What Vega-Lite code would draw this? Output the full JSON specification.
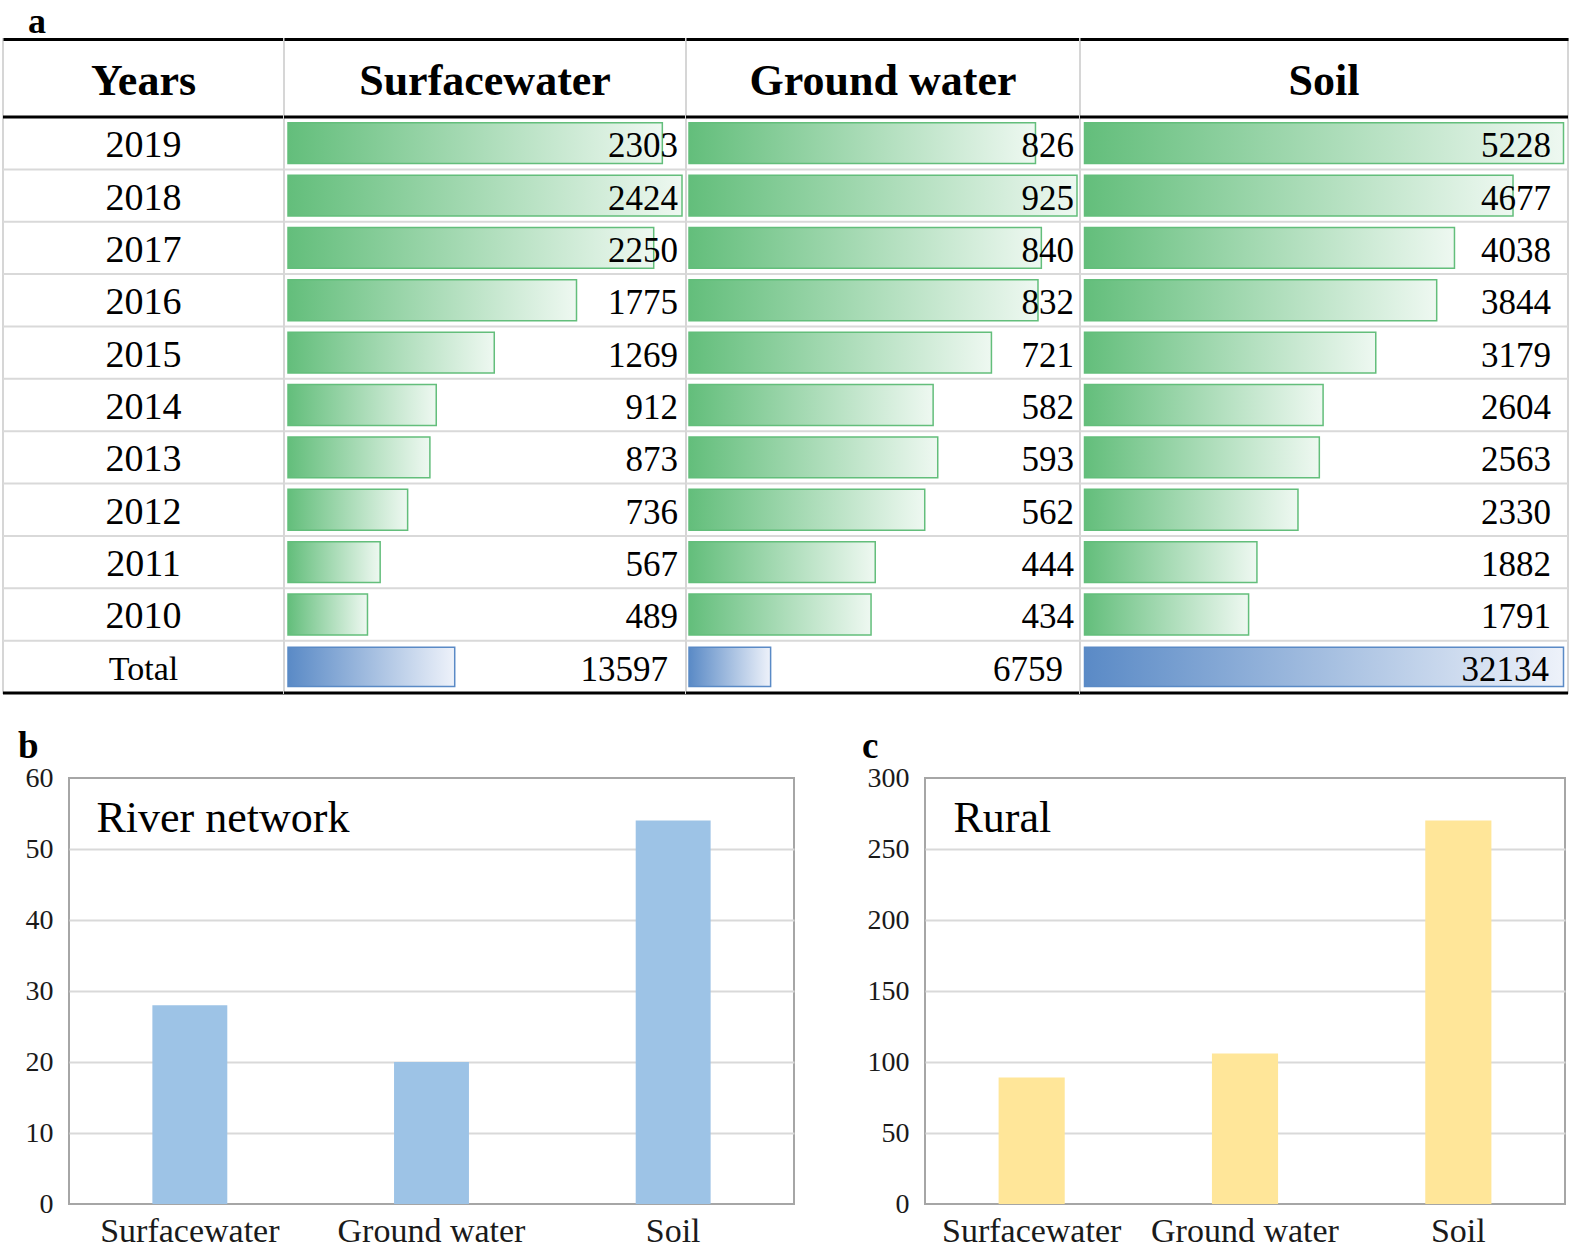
{
  "$schema": "https://vega.github.io/schema/vega-lite/v6.json",
  "padding": {"left": 0, "top": 3, "right": 0, "bottom": 0},
  "background": "white",
  "spacing": 31,
  "datasets": {
    "table": [
      {"year": "2019", "sw": 2303, "gw": 826, "soil": 5228},
      {"year": "2018", "sw": 2424, "gw": 925, "soil": 4677},
      {"year": "2017", "sw": 2250, "gw": 840, "soil": 4038},
      {"year": "2016", "sw": 1775, "gw": 832, "soil": 3844},
      {"year": "2015", "sw": 1269, "gw": 721, "soil": 3179},
      {"year": "2014", "sw": 912, "gw": 582, "soil": 2604},
      {"year": "2013", "sw": 873, "gw": 593, "soil": 2563},
      {"year": "2012", "sw": 736, "gw": 562, "soil": 2330},
      {"year": "2011", "sw": 567, "gw": 444, "soil": 1882},
      {"year": "2010", "sw": 489, "gw": 434, "soil": 1791},
      {"year": "Total", "sw": 13597, "gw": 6759, "soil": 32134}
    ],
    "river": [
      {"medium": "Surfacewater", "count": 28},
      {"medium": "Ground water", "count": 20},
      {"medium": "Soil", "count": 54}
    ],
    "rural": [
      {"medium": "Surfacewater", "count": 89},
      {"medium": "Ground water", "count": 106},
      {"medium": "Soil", "count": 270}
    ]
  },
  "config": {
    "font": "Liberation Serif",
    "view": {"stroke": "#D6D6D6", "strokeWidth": 2},
    "text": {"font": "Liberation Serif", "color": "#000"},
    "axis": {"labelFont": "Liberation Serif", "titleFont": "Liberation Serif"},
    "title": {"font": "Liberation Serif", "color": "#000"}
  },
  "vconcat": [
    {
      "bounds": "flush",
      "spacing": 0,
      "title": {"text": "a", "anchor": "start", "frame": "group", "dx": 25, "offset": -30.5, "baseline": "alphabetic", "fontSize": 36, "fontWeight": "bold"},
      "hconcat": [
        {
          "width": 281, "height": 654,
          "title": {"text": "Years", "anchor": "middle", "frame": "group", "offset": -100, "baseline": "alphabetic", "fontSize": 44, "fontWeight": "bold"},
          "data": {"name": "table"},
          "layer": [
            {"mark": {"type": "rule", "color": "#D9D9D9", "strokeWidth": 2}, "encoding": {"y": {"field": "year", "type": "ordinal", "bandPosition": 0, "axis": null, "scale": {"domain": ["2019","2018","2017","2016","2015","2014","2013","2012","2011","2010","Total"], "paddingInner": 0, "paddingOuter": 0.745, "align": 1}}}},
            {"transform": [{"filter": "datum.year === '2019'"}], "mark": {"type": "rule", "color": "#000", "strokeWidth": 3}, "encoding": {"y": {"field": "year", "type": "ordinal", "bandPosition": 0, "axis": null}}},
            {"transform": [{"filter": "datum.year === 'Total'"}], "mark": {"type": "rule", "color": "#000", "strokeWidth": 3}, "encoding": {"y": {"field": "year", "type": "ordinal", "bandPosition": 1, "axis": null}}},
            {"mark": {"type": "text", "baseline": "middle", "dy": 3}, "encoding": {
              "y": {"field": "year", "type": "ordinal", "axis": null},
              "x": {"datum": "Years", "type": "nominal", "scale": {"paddingInner": 0, "paddingOuter": 0}, "axis": {"orient": "top", "domainColor": "#000", "domainWidth": 3, "labels": false, "ticks": false, "grid": false, "title": null}},
              "text": {"field": "year"},
              "size": {"condition": {"test": "datum.year === 'Total'", "value": 34}, "value": 38}}}
          ]
        },
        {
          "width": 402, "height": 654,
          "title": {"text": "Surfacewater", "anchor": "middle", "frame": "group", "offset": -100, "baseline": "alphabetic", "fontSize": 44, "fontWeight": "bold"},
          "data": {"name": "table"},
          "resolve": {"scale": {"x": "independent"}},
          "layer": [
            {"mark": {"type": "rule", "color": "#D9D9D9", "strokeWidth": 2}, "encoding": {"y": {"field": "year", "type": "ordinal", "bandPosition": 0, "axis": null, "scale": {"domain": ["2019","2018","2017","2016","2015","2014","2013","2012","2011","2010","Total"], "paddingInner": 0, "paddingOuter": 0.745, "align": 1}}}},
            {"transform": [{"filter": "datum.year === '2019'"}], "mark": {"type": "rule", "color": "#000", "strokeWidth": 3}, "encoding": {"y": {"field": "year", "type": "ordinal", "bandPosition": 0, "axis": null}}},
            {"transform": [{"filter": "datum.year === 'Total'"}], "mark": {"type": "rule", "color": "#000", "strokeWidth": 3}, "encoding": {"y": {"field": "year", "type": "ordinal", "bandPosition": 1, "axis": null}}},
            {"transform": [{"filter": "datum.year !== 'Total'"}], "mark": {"type": "bar", "height": {"band": 0.78}, "stroke": "#63BE7B", "strokeWidth": 1.5, "fill": {"gradient": "linear", "x1": 0, "y1": 0, "x2": 1, "y2": 0, "stops": [{"offset": 0, "color": "#63BE7B"}, {"offset": 1, "color": "#EEF8F1"}]}}, "encoding": {"y": {"field": "year", "type": "ordinal", "axis": null}, "x": {"field": "sw", "type": "quantitative", "axis": {"orient": "top", "domainColor": "#000", "domainWidth": 3, "labels": false, "ticks": false, "grid": false, "title": null}, "scale": {"domain": [0, 2424], "padding": 4, "nice": false}}}},
            {"transform": [{"filter": "datum.year === 'Total'"}], "mark": {"type": "bar", "height": {"band": 0.75}, "stroke": "#5A8AC6", "strokeWidth": 1.5, "fill": {"gradient": "linear", "x1": 0, "y1": 0, "x2": 1, "y2": 0, "stops": [{"offset": 0, "color": "#5A8AC6"}, {"offset": 1, "color": "#EEF2FA"}]}}, "encoding": {"y": {"field": "year", "type": "ordinal", "axis": null}, "x": {"field": "sw", "type": "quantitative", "axis": null, "scale": {"domain": [0, 32134], "padding": 4, "nice": false}}}},
            {"transform": [{"filter": "datum.year !== 'Total'"}], "mark": {"type": "text", "align": "right", "baseline": "middle", "fontSize": 35, "dx": -8, "dy": 3}, "encoding": {"y": {"field": "year", "type": "ordinal", "axis": null}, "x": {"value": "width"}, "text": {"field": "sw", "type": "quantitative", "format": "d"}}},
            {"transform": [{"filter": "datum.year === 'Total'"}], "mark": {"type": "text", "align": "right", "baseline": "middle", "fontSize": 35, "dx": -18, "dy": 3}, "encoding": {"y": {"field": "year", "type": "ordinal", "axis": null}, "x": {"value": "width"}, "text": {"field": "sw", "type": "quantitative", "format": "d"}}}
          ]
        },
        {
          "width": 394, "height": 654,
          "title": {"text": "Ground water", "anchor": "middle", "frame": "group", "offset": -100, "baseline": "alphabetic", "fontSize": 44, "fontWeight": "bold"},
          "data": {"name": "table"},
          "resolve": {"scale": {"x": "independent"}},
          "layer": [
            {"mark": {"type": "rule", "color": "#D9D9D9", "strokeWidth": 2}, "encoding": {"y": {"field": "year", "type": "ordinal", "bandPosition": 0, "axis": null, "scale": {"domain": ["2019","2018","2017","2016","2015","2014","2013","2012","2011","2010","Total"], "paddingInner": 0, "paddingOuter": 0.745, "align": 1}}}},
            {"transform": [{"filter": "datum.year === '2019'"}], "mark": {"type": "rule", "color": "#000", "strokeWidth": 3}, "encoding": {"y": {"field": "year", "type": "ordinal", "bandPosition": 0, "axis": null}}},
            {"transform": [{"filter": "datum.year === 'Total'"}], "mark": {"type": "rule", "color": "#000", "strokeWidth": 3}, "encoding": {"y": {"field": "year", "type": "ordinal", "bandPosition": 1, "axis": null}}},
            {"transform": [{"filter": "datum.year !== 'Total'"}], "mark": {"type": "bar", "height": {"band": 0.78}, "stroke": "#63BE7B", "strokeWidth": 1.5, "fill": {"gradient": "linear", "x1": 0, "y1": 0, "x2": 1, "y2": 0, "stops": [{"offset": 0, "color": "#63BE7B"}, {"offset": 1, "color": "#EEF8F1"}]}}, "encoding": {"y": {"field": "year", "type": "ordinal", "axis": null}, "x": {"field": "gw", "type": "quantitative", "axis": {"orient": "top", "domainColor": "#000", "domainWidth": 3, "labels": false, "ticks": false, "grid": false, "title": null}, "scale": {"domain": [0, 925], "padding": 3, "nice": false}}}},
            {"transform": [{"filter": "datum.year === 'Total'"}], "mark": {"type": "bar", "height": {"band": 0.75}, "stroke": "#5A8AC6", "strokeWidth": 1.5, "fill": {"gradient": "linear", "x1": 0, "y1": 0, "x2": 1, "y2": 0, "stops": [{"offset": 0, "color": "#5A8AC6"}, {"offset": 1, "color": "#EEF2FA"}]}}, "encoding": {"y": {"field": "year", "type": "ordinal", "axis": null}, "x": {"field": "gw", "type": "quantitative", "axis": null, "scale": {"domain": [0, 32134], "padding": 3, "nice": false}}}},
            {"transform": [{"filter": "datum.year !== 'Total'"}], "mark": {"type": "text", "align": "right", "baseline": "middle", "fontSize": 35, "dx": -6, "dy": 3}, "encoding": {"y": {"field": "year", "type": "ordinal", "axis": null}, "x": {"value": "width"}, "text": {"field": "gw", "type": "quantitative", "format": "d"}}},
            {"transform": [{"filter": "datum.year === 'Total'"}], "mark": {"type": "text", "align": "right", "baseline": "middle", "fontSize": 35, "dx": -17, "dy": 3}, "encoding": {"y": {"field": "year", "type": "ordinal", "axis": null}, "x": {"value": "width"}, "text": {"field": "gw", "type": "quantitative", "format": "d"}}}
          ]
        },
        {
          "width": 488, "height": 654,
          "title": {"text": "Soil", "anchor": "middle", "frame": "group", "offset": -100, "baseline": "alphabetic", "fontSize": 44, "fontWeight": "bold"},
          "data": {"name": "table"},
          "resolve": {"scale": {"x": "independent"}},
          "layer": [
            {"mark": {"type": "rule", "color": "#D9D9D9", "strokeWidth": 2}, "encoding": {"y": {"field": "year", "type": "ordinal", "bandPosition": 0, "axis": null, "scale": {"domain": ["2019","2018","2017","2016","2015","2014","2013","2012","2011","2010","Total"], "paddingInner": 0, "paddingOuter": 0.745, "align": 1}}}},
            {"transform": [{"filter": "datum.year === '2019'"}], "mark": {"type": "rule", "color": "#000", "strokeWidth": 3}, "encoding": {"y": {"field": "year", "type": "ordinal", "bandPosition": 0, "axis": null}}},
            {"transform": [{"filter": "datum.year === 'Total'"}], "mark": {"type": "rule", "color": "#000", "strokeWidth": 3}, "encoding": {"y": {"field": "year", "type": "ordinal", "bandPosition": 1, "axis": null}}},
            {"transform": [{"filter": "datum.year !== 'Total'"}], "mark": {"type": "bar", "height": {"band": 0.78}, "stroke": "#63BE7B", "strokeWidth": 1.5, "fill": {"gradient": "linear", "x1": 0, "y1": 0, "x2": 1, "y2": 0, "stops": [{"offset": 0, "color": "#63BE7B"}, {"offset": 1, "color": "#EEF8F1"}]}}, "encoding": {"y": {"field": "year", "type": "ordinal", "axis": null}, "x": {"field": "soil", "type": "quantitative", "axis": {"orient": "top", "domainColor": "#000", "domainWidth": 3, "labels": false, "ticks": false, "grid": false, "title": null}, "scale": {"domain": [0, 5228], "padding": 4.5, "nice": false}}}},
            {"transform": [{"filter": "datum.year === 'Total'"}], "mark": {"type": "bar", "height": {"band": 0.75}, "stroke": "#5A8AC6", "strokeWidth": 1.5, "fill": {"gradient": "linear", "x1": 0, "y1": 0, "x2": 1, "y2": 0, "stops": [{"offset": 0, "color": "#5A8AC6"}, {"offset": 1, "color": "#EEF2FA"}]}}, "encoding": {"y": {"field": "year", "type": "ordinal", "axis": null}, "x": {"field": "soil", "type": "quantitative", "axis": null, "scale": {"domain": [0, 32134], "padding": 4.5, "nice": false}}}},
            {"transform": [{"filter": "datum.year !== 'Total'"}], "mark": {"type": "text", "align": "right", "baseline": "middle", "fontSize": 35, "dx": -17, "dy": 3}, "encoding": {"y": {"field": "year", "type": "ordinal", "axis": null}, "x": {"value": "width"}, "text": {"field": "soil", "type": "quantitative", "format": "d"}}},
            {"transform": [{"filter": "datum.year === 'Total'"}], "mark": {"type": "text", "align": "right", "baseline": "middle", "fontSize": 35, "dx": -19, "dy": 3}, "encoding": {"y": {"field": "year", "type": "ordinal", "axis": null}, "x": {"value": "width"}, "text": {"field": "soil", "type": "quantitative", "format": "d"}}}
          ]
        }
      ]
    },
    {
      "spacing": 0,
      "hconcat": [
        {
          "width": 14, "height": 426,
          "view": {"stroke": null},
          "data": {"values": [{"t": ""}]},
          "mark": {"type": "text"},
          "encoding": {"text": {"field": "t"}}
        },
        {
          "bounds": "flush",
          "spacing": 131,
          "hconcat": [
            {
              "width": 725, "height": 426,
              "view": {"stroke": "#A6A6A6", "strokeWidth": 2},
              "title": {"text": "b", "anchor": "start", "frame": "group", "dx": -51, "offset": -31, "baseline": "alphabetic", "fontSize": 37, "fontWeight": "bold"},
              "data": {"name": "river"},
              "mark": {"type": "bar", "color": "#9DC3E6"},
              "encoding": {
                "x": {"field": "medium", "type": "nominal", "sort": null, "scale": {"paddingInner": 0.69, "paddingOuter": 0.345}, "axis": {"title": null, "labelAngle": 0, "ticks": false, "domain": false, "labelFontSize": 34, "labelPadding": 10, "labelLimit": 0, "labelColor": "#1a1a1a"}},
                "y": {"field": "count", "type": "quantitative", "scale": {"domain": [0, 60], "nice": false}, "axis": {"values": [0, 10, 20, 30, 40, 50, 60], "title": "River network", "titleAngle": 0, "titleX": 27, "titleY": 53, "titleAlign": "left", "titleBaseline": "alphabetic", "titleFontSize": 44, "titleFontWeight": "normal", "titleColor": "#000", "ticks": false, "domain": false, "grid": true, "gridColor": {"condition": {"test": "datum.value === 0 || datum.value === 60", "value": "transparent"}, "value": "#D9D9D9"}, "gridWidth": 2, "labelFontSize": 28, "labelPadding": 16, "labelColor": "#1a1a1a", "labelFlush": false, "labelOverlap": false}}
              }
            },
            {
              "width": 640, "height": 426,
              "view": {"stroke": "#A6A6A6", "strokeWidth": 2},
              "title": {"text": "c", "anchor": "start", "frame": "group", "dx": -63, "offset": -31, "baseline": "alphabetic", "fontSize": 37, "fontWeight": "bold"},
              "data": {"name": "rural"},
              "mark": {"type": "bar", "color": "#FFE699"},
              "encoding": {
                "x": {"field": "medium", "type": "nominal", "sort": null, "scale": {"paddingInner": 0.69, "paddingOuter": 0.345}, "axis": {"title": null, "labelAngle": 0, "ticks": false, "domain": false, "labelFontSize": 34, "labelPadding": 10, "labelLimit": 0, "labelColor": "#1a1a1a"}},
                "y": {"field": "count", "type": "quantitative", "scale": {"domain": [0, 300], "nice": false}, "axis": {"values": [0, 50, 100, 150, 200, 250, 300], "title": "Rural", "titleAngle": 0, "titleX": 28, "titleY": 53, "titleAlign": "left", "titleBaseline": "alphabetic", "titleFontSize": 44, "titleFontWeight": "normal", "titleColor": "#000", "ticks": false, "domain": false, "grid": true, "gridColor": {"condition": {"test": "datum.value === 0 || datum.value === 300", "value": "transparent"}, "value": "#D9D9D9"}, "gridWidth": 2, "labelFontSize": 28, "labelPadding": 16, "labelColor": "#1a1a1a", "labelFlush": false, "labelOverlap": false}}
              }
            }
          ]
        }
      ]
    }
  ]
}
